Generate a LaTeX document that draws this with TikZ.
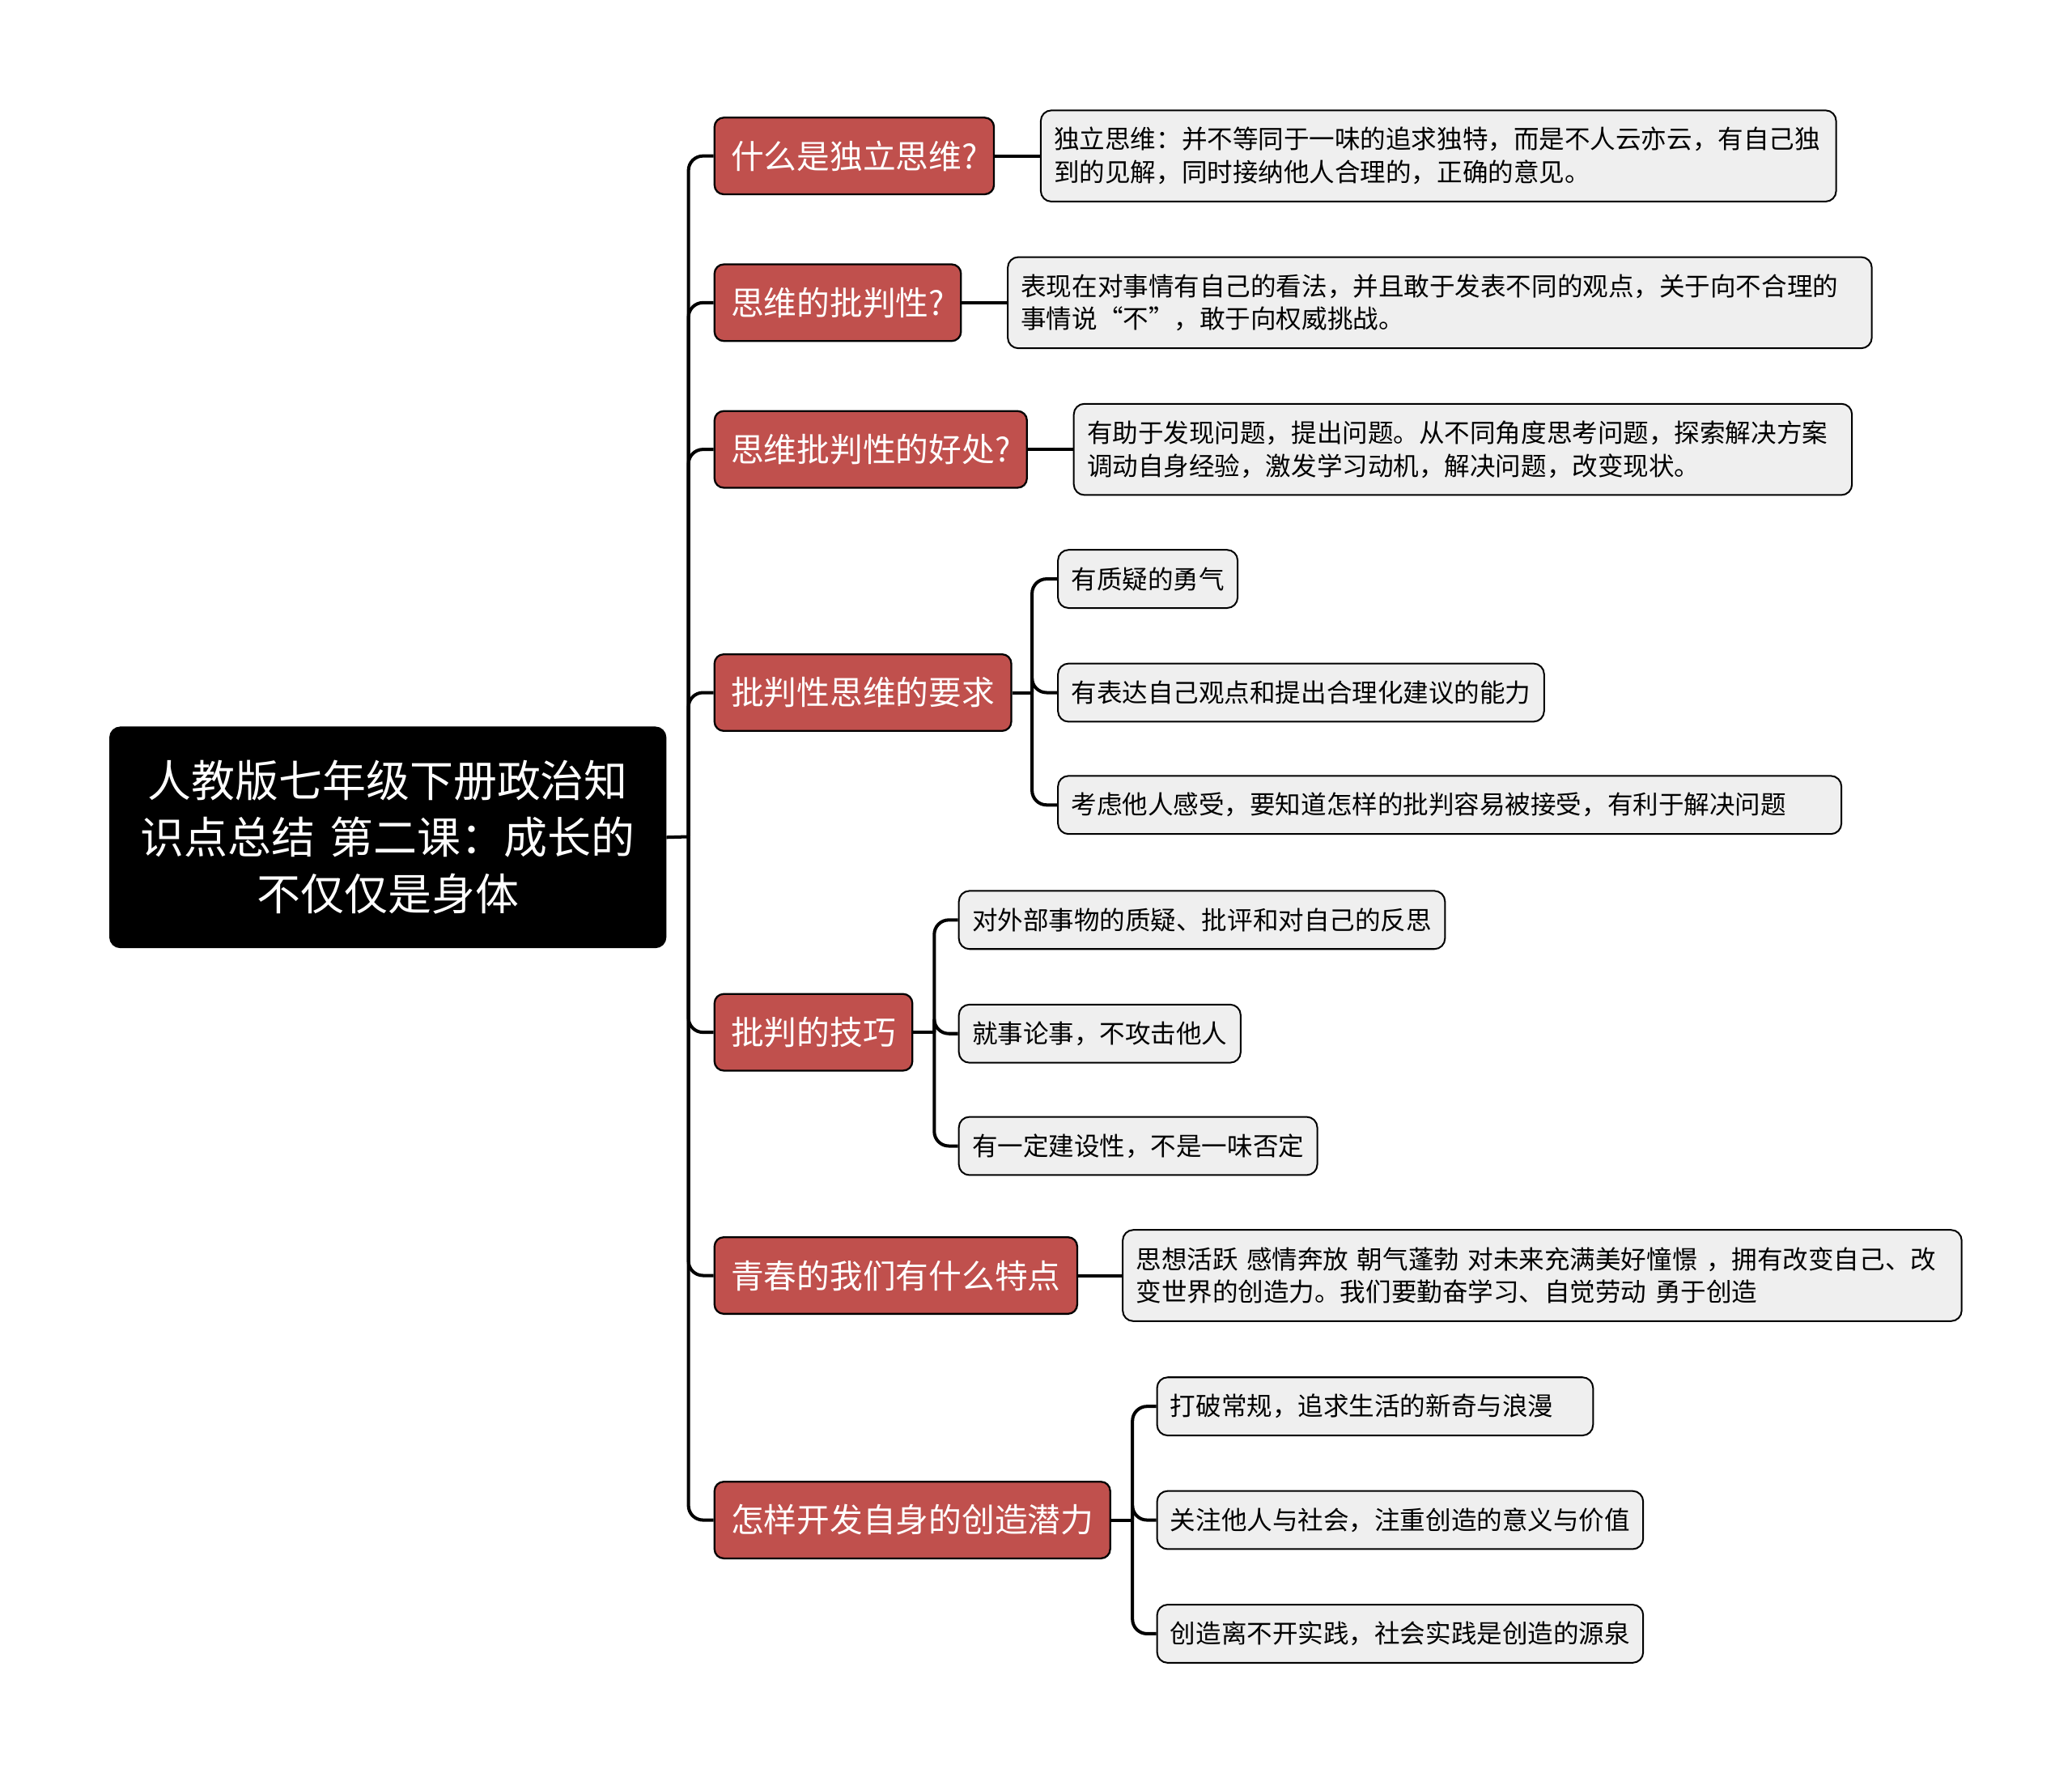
\documentclass[tikz,border=0pt]{standalone}
\usepackage{fontspec}
\setmainfont{Noto Sans CJK SC}
\usepackage{tikz}
\definecolor{branchred}{RGB}{192,80,77}
\definecolor{leafgray}{RGB}{239,239,239}

\begin{document}
\begin{tikzpicture}[x=0.02cm,y=-0.02cm,
	rootbox/.style={draw=black, fill=black, rounded corners=0.16cm, text=white,
		font=\fontsize{18.8}{24.5}\selectfont, align=center, text width=7.6cm,
		inner xsep=0.41cm, minimum height=3.34cm},
	branchbox/.style={draw=black, line width=0.8pt, fill=branchred, rounded corners=0.14cm,
		text=white, font=\fontsize{14.2}{17}\selectfont, minimum height=1.16cm,
		inner xsep=0.25cm, anchor=west},
	leafbox/.style={draw=black, line width=0.7pt, fill=leafgray, rounded corners=0.16cm,
		font=\fontsize{11}{14.2}\selectfont, minimum height=0.88cm, inner xsep=0.2cm,
		anchor=west, align=left},
	twoline/.style={leafbox, minimum height=1.38cm},
	link/.style={line width=1.4pt, rounded corners=0.22cm}]
		\useasboundingbox (0,0) rectangle (1568,1341);

		%% Root
		\node[rootbox] (root) at (293.5,633.5)
		{人教版七年级下册政治知\\识点总结 第二课：成长的\\不仅仅是身体};
		\coordinate (trunk) at (521,633);

		%% Branches
		\node[branchbox] (b1) at (540,118) {什么是独立思维?};
		\node[branchbox] (b2) at (540,229) {思维的批判性?};
		\node[branchbox] (b3) at (540,340) {思维批判性的好处?};
		\node[branchbox] (b4) at (540,524) {批判性思维的要求};
		\node[branchbox] (b5) at (540,781) {批判的技巧};
		\node[branchbox] (b6) at (540,965) {青春的我们有什么特点};
		\node[branchbox] (b7) at (540,1150) {怎样开发自身的创造潜力};

		%% Leaves
		\node[twoline, text width=11.64cm] (l1) at (787,118)
		{独立思维：并不等同于一味的追求独特，而是不人云亦云，有自己独\\到的见解，同时接纳他人合理的，正确的意见。};
		\node[twoline, text width=12.68cm] (l2) at (762,229)
		{表现在对事情有自己的看法，并且敢于发表不同的观点，关于向不合理的\\事情说“不”，敢于向权威挑战。};
		\node[twoline, text width=11.38cm] (l3) at (812,340)
		{有助于发现问题，提出问题。从不同角度思考问题，探索解决方案\\调动自身经验，激发学习动机，解决问题，改变现状。};
		\node[leafbox] (l4a) at (800,438) {有质疑的勇气};
		\node[leafbox] (l4b) at (800,524) {有表达自己观点和提出合理化建议的能力};
		\node[leafbox, text width=11.46cm] (l4c) at (800,609) {考虑他人感受，要知道怎样的批判容易被接受，有利于解决问题};
		\node[leafbox] (l5a) at (725,696) {对外部事物的质疑、批评和对自己的反思};
		\node[leafbox] (l5b) at (725,782) {就事论事，不攻击他人};
		\node[leafbox] (l5c) at (725,867) {有一定建设性，不是一味否定};
		\node[twoline, text width=12.30cm] (l6) at (849,965)
		{思想活跃 感情奔放 朝气蓬勃 对未来充满美好憧憬 ，拥有改变自己、改\\变世界的创造力。我们要勤奋学习、自觉劳动 勇于创造};
		\node[leafbox, text width=6.2cm] (l7a) at (875,1064) {打破常规，追求生活的新奇与浪漫};
		\node[leafbox] (l7b) at (875,1150) {关注他人与社会，注重创造的意义与价值};
		\node[leafbox] (l7c) at (875,1236) {创造离不开实践，社会实践是创造的源泉};

		%% Connectors root -> branches
		\draw[link] (root.east) -- (trunk);
		\foreach \b in {b1,b2,b3,b4,b5,b6,b7}
			\draw[link] (trunk) |- (\b.west);

		%% Connectors branches -> leaves
		\draw[link] (b1.east) -- (l1.west);
		\draw[link] (b2.east) -- (l2.west);
		\draw[link] (b3.east) -- (l3.west);
		\draw[link] (b6.east) -- (l6.west);
		\coordinate (k4) at (781,524);
		\coordinate (k5) at (707,781);
		\coordinate (k7) at (857,1150);
		\draw[link] (b4.east) -- (k4);
		\draw[link] (b5.east) -- (k5);
		\draw[link] (b7.east) -- (k7);
		\foreach \l in {l4a,l4b,l4c}
			\draw[link] (k4) |- (\l.west);
		\foreach \l in {l5a,l5b,l5c}
			\draw[link] (k5) |- (\l.west);
		\foreach \l in {l7a,l7b,l7c}
			\draw[link] (k7) |- (\l.west);
	\end{tikzpicture}
\end{document}
